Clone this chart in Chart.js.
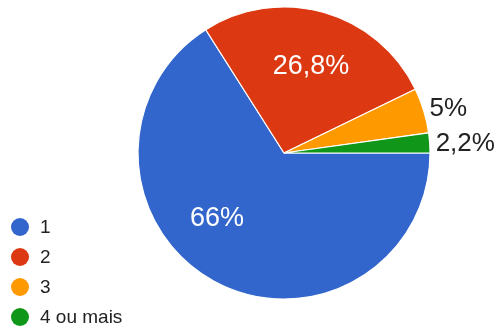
<!DOCTYPE html>
<html>
<head>
<meta charset="utf-8">
<script src="https://cdn.jsdelivr.net/npm/chart.js@4.4.1/dist/chart.umd.min.js"></script>
<style>
  html, body { margin: 0; padding: 0; background: #fff; }
  #wrap { position: relative; width: 501px; height: 333px; }
  #legend { position: absolute; left: 11px; top: 212px; font-family: "Liberation Sans", Arial, sans-serif; font-size: 19px; color: #222; }
  .item { height: 30px; display: flex; align-items: center; }
  .dot { width: 18px; height: 18px; border-radius: 50%; margin-right: 11px; }
</style>
</head>
<body>
<div id="wrap">
  <canvas id="pieChart" width="501" height="333"></canvas>
  <div id="legend"></div>
</div>
<script>
// 数据
const categories = ['1', '2', '3', '4 ou mais'];
const percentValues = [66, 26.8, 5, 2.2];
const sliceColors = ['#3366cc', '#dc3912', '#ff9900', '#109618'];

// 格式化百分比（巴西葡语用逗号）
function formatPercent(v) {
    return String(v).replace('.', ',') + '%';
}

// 标签绘制插件
const sliceLabels = {
    id: 'sliceLabels',
    afterDatasetsDraw(chart) {
        const ctx = chart.ctx;
        const arcs = chart.getDatasetMeta(0).data;
        // inside: 白字在扇形内部；outside: 黑字在外侧
        const place = [
            { inside: true, shift: 17, frac: 0.64 },
            { inside: true, shift: 1.5, frac: 0.62 },
            { inside: false, dy: -2 },
            { inside: false, dy: 1 }
        ];
        ctx.save();
        ctx.textBaseline = 'middle';
        arcs.forEach((arc, i) => {
            const p = arc.getProps(['x', 'y', 'startAngle', 'endAngle', 'outerRadius']);
            const mid = (p.startAngle + p.endAngle) / 2;
            const text = formatPercent(percentValues[i]);
            if (place[i].inside) {
                const a = mid + place[i].shift * Math.PI / 180;
                const r = p.outerRadius * place[i].frac;
                ctx.font = '27px "Liberation Sans", Arial, sans-serif';
                ctx.fillStyle = '#ffffff';
                ctx.textAlign = 'center';
                ctx.fillText(text, p.x + r * Math.cos(a), p.y + r * Math.sin(a));
            } else {
                ctx.font = '26px "Liberation Sans", Arial, sans-serif';
                ctx.fillStyle = '#222222';
                ctx.textAlign = 'left';
                ctx.fillText(text,
                    p.x + (p.outerRadius + 6) * Math.cos(mid),
                    p.y + p.outerRadius * Math.sin(mid) + place[i].dy);
            }
        });
        ctx.restore();
    }
};

// 创建图表
const chart = new Chart(document.getElementById('pieChart'), {
    type: 'pie',
    data: {
        labels: categories,
        datasets: [{
            data: percentValues,
            backgroundColor: sliceColors,
            borderColor: '#ffffff',
            borderWidth: 1.2
        }]
    },
    options: {
        responsive: false,
        animation: false,
        rotation: 90,
        radius: 146,
        layout: { padding: { left: 67, right: 0, top: 0, bottom: 27 } },
        plugins: {
            legend: { display: false },
            tooltip: { enabled: false }
        }
    },
    plugins: [sliceLabels]
});

// 图例
const legendDiv = document.getElementById('legend');
categories.forEach((name, i) => {
    const row = document.createElement('div');
    row.className = 'item';
    row.innerHTML = '<span class="dot" style="background:' + sliceColors[i] + '"></span><span>' + name + '</span>';
    legendDiv.appendChild(row);
});
</script>
</body>
</html>
